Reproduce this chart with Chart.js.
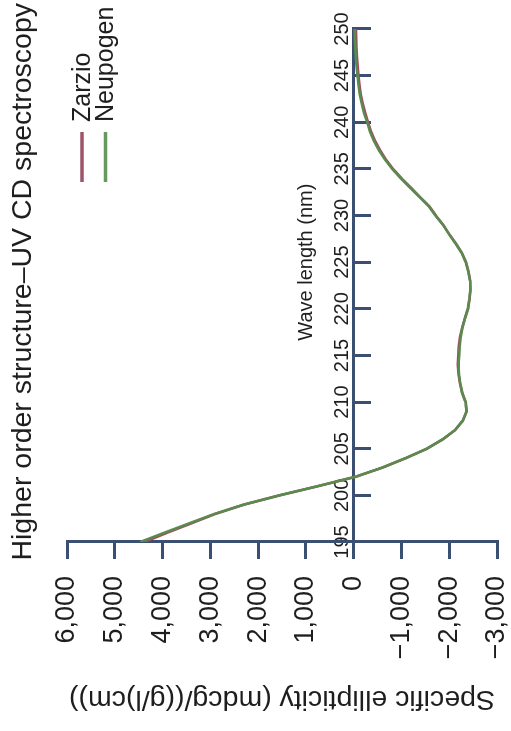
<!DOCTYPE html>
<html>
<head>
<meta charset="utf-8">
<title>Higher order structure – UV CD spectroscopy</title>
<script src="https://cdn.jsdelivr.net/npm/chart.js@4.4.1/dist/chart.umd.min.js"></script>
<style>
  html, body { margin: 0; padding: 0; background: #ffffff; overflow: hidden; }
  /* the figure is laid out landscape and turned a quarter turn to stand upright on the page */
  #frame {
    position: absolute; left: 0; top: 0;
    width: 731px; height: 511px;
    transform-origin: 0 0;
    transform: translateY(731px) rotate(-90deg);
  }
  canvas { display: block; }
</style>
</head>
<body>
<div id="frame"><canvas id="cd" width="731" height="511"></canvas></div>
<script>
// Wavelength grid (nm)
const wavelengths = [195, 196, 197, 198, 199, 200, 201, 202, 203, 204,
                     205, 206, 207, 208, 209, 210, 211, 212, 213, 214,
                     215, 216, 217, 218, 219, 220, 221, 222, 223, 224,
                     225, 226, 227, 228, 229, 230, 231, 232, 233, 234,
                     235, 236, 237, 238, 239, 240, 241, 242, 243, 244,
                     245, 246, 247, 248, 249, 250];

// Specific ellipticity, mdcg/((g/l)cm)
const zarzio = [4380, 3900, 3400, 2900, 2300, 1550, 735, -45, -615, -1095,
                -1535, -1865, -2125, -2285, -2365, -2345, -2275, -2225, -2195, -2180,
                -2190, -2200, -2225, -2275, -2330, -2395, -2425, -2445, -2440, -2405,
                -2350, -2265, -2140, -2000, -1875, -1720, -1580, -1385, -1195, -1000,
                -825, -675, -555, -450, -365, -300, -240, -190, -150, -120,
                -100, -85, -70, -60, -55, -50];

const neupogen = [4470, 3960, 3440, 2920, 2310, 1560, 740, -40, -610, -1090,
                  -1530, -1860, -2120, -2280, -2360, -2340, -2270, -2230, -2205, -2195,
                  -2210, -2220, -2240, -2280, -2330, -2390, -2420, -2440, -2435, -2400,
                  -2345, -2260, -2135, -1995, -1870, -1715, -1570, -1375, -1180, -985,
                  -805, -655, -530, -425, -340, -285, -215, -170, -130, -100,
                  -80, -60, -45, -35, -25, -20];

const xTickValues = [195, 200, 205, 210, 215, 220, 225, 230, 235, 240, 245, 250];
const yTickValues = [-3000, -2000, -1000, 0, 1000, 2000, 3000, 4000, 5000, 6000];

const seriesNames  = ['Zarzio', 'Neupogen'];
const seriesColors = ['#a24a5f', '#5a8a4e'];
const legendColors = ['#9c5468', '#67985f'];

const chartTitle = 'Higher order structure\u2013UV CD spectroscopy';
const xTitle = 'Wave length (nm)';
const yTitle = 'Specific ellipticity (mdcg/((g/l)cm))';

const axisColor = '#3a4f72';
const textColor = '#1e1e1e';
const family = '"Liberation Sans", Arial, Helvetica, sans-serif';

function formatThousands(v) {
  const s = Math.abs(v).toLocaleString('en-US');
  return v < 0 ? '\u2212' + s : s;
}

function toPoints(values) {
  return wavelengths.map((w, i) => ({ x: w, y: values[i] }));
}

// wavelength-axis caption (sits above the zero line) and the stacked legend
const overlay = {
  id: 'overlay',
  afterDraw(chart) {
    const { ctx, chartArea, scales } = chart;
    ctx.save();
    ctx.fillStyle = textColor;
    ctx.font = '20px ' + family;
    ctx.textAlign = 'center';
    ctx.textBaseline = 'middle';
    ctx.fillText(xTitle, scales.x.getPixelForValue(225), scales.y.getPixelForValue(0) - 47);

    ctx.font = '25px ' + family;
    ctx.textAlign = 'left';
    seriesNames.forEach((name, i) => {
      const y = chartArea.top + 15 + i * 23.5;
      const x0 = chartArea.right - 153;
      ctx.strokeStyle = legendColors[i];
      ctx.lineWidth = 3.5;
      ctx.lineCap = 'butt';
      ctx.beginPath();
      ctx.moveTo(x0, y);
      ctx.lineTo(x0 + 50, y);
      ctx.stroke();
      ctx.fillText(name, x0 + 60, y + 1);
    });
    ctx.restore();
  }
};

new Chart(document.getElementById('cd'), {
  type: 'line',
  data: {
    datasets: [
      { label: seriesNames[0], data: toPoints(zarzio), borderColor: seriesColors[0],
        borderWidth: 2.6, pointRadius: 0, tension: 0, fill: false, order: 1 },
      { label: seriesNames[1], data: toPoints(neupogen), borderColor: seriesColors[1],
        borderWidth: 2.6, pointRadius: 0, tension: 0, fill: false, order: 0 }
    ]
  },
  options: {
    responsive: false,
    animation: false,
    devicePixelRatio: 1,
    events: [],
    layout: { padding: { left: 4, right: 3, top: 0, bottom: 14 } },
    plugins: {
      legend: { display: false },
      tooltip: { enabled: false },
      title: {
        display: true,
        text: chartTitle,
        fullSize: true,
        align: 'end',
        color: textColor,
        font: { family, size: 28.5, weight: 'normal', lineHeight: 1.2 },
        padding: { top: 6, bottom: 26.8 }
      }
    },
    scales: {
      x: {
        type: 'linear',
        min: 195,
        max: 250,
        position: { y: 0 },
        afterBuildTicks: s => { s.ticks = xTickValues.map(v => ({ value: v })); },
        grid: { drawOnChartArea: false, drawTicks: true, tickLength: 16, color: axisColor, lineWidth: 3 },
        border: { display: true, color: axisColor, width: 3 },
        ticks: {
          autoSkip: false, maxRotation: 0, minRotation: 0,
          color: textColor,
          font: { family, size: 20, lineHeight: 1.2 },
          padding: -39
        }
      },
      y: {
        type: 'linear',
        min: -3000,
        max: 6000,
        position: 'left',
        afterBuildTicks: s => { s.ticks = yTickValues.map(v => ({ value: v })); },
        afterFit: s => { s.width = 185; s.paddingTop = 0; s.paddingBottom = 0; },
        grid: { drawOnChartArea: false, drawTicks: true, tickLength: 17, color: axisColor, lineWidth: 3 },
        border: { display: true, color: axisColor, width: 3 },
        ticks: {
          autoSkip: false,
          color: textColor,
          font: { family, size: 27, lineHeight: 1.0 },
          padding: 17,
          callback: v => formatThousands(v)
        },
        title: {
          display: true,
          text: yTitle,
          color: textColor,
          font: { family, size: 28.5, lineHeight: 1.2 },
          padding: { top: 11, bottom: 0 }
        }
      },
      // empty margin strip on the right so the plot stops short of the title's end
      gutter: {
        type: 'linear',
        position: 'right',
        display: true,
        grid: { display: false, drawTicks: false },
        border: { display: false },
        ticks: { display: false },
        afterFit: s => { s.width = 26; s.paddingTop = 0; s.paddingBottom = 0; }
      }
    }
  },
  plugins: [overlay]
});
</script>
</body>
</html>
